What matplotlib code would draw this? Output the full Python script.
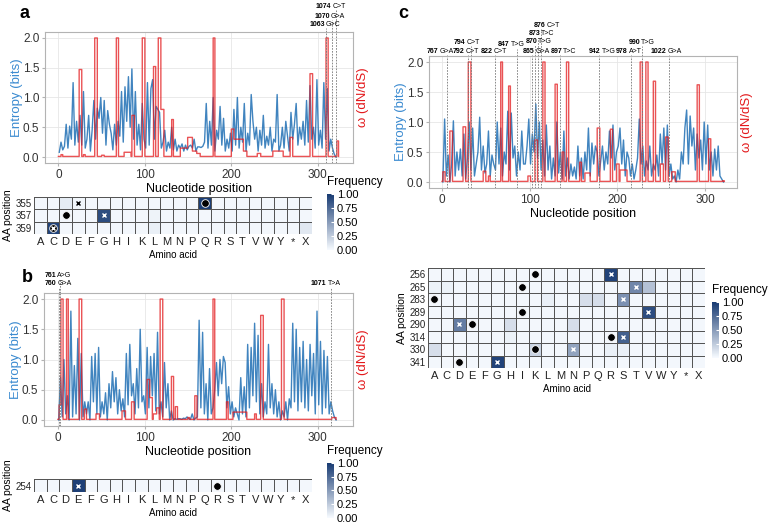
import numpy as np
import matplotlib.pyplot as plt
import matplotlib.transforms as mtransforms
from matplotlib.colors import LinearSegmentedColormap

plt.rcParams['font.family'] = ['Liberation Sans', 'DejaVu Sans']

BLUE = '#1f6fb4'
RED = '#e3191c'
NARROW = ['Liberation Sans Narrow', 'DejaVu Sans Condensed', 'Liberation Sans']
aa = ['A', 'C', 'D', 'E', 'F', 'G', 'H', 'I', 'K', 'L', 'M', 'N', 'P', 'Q', 'R',
      'S', 'T', 'V', 'W', 'Y', '*', 'X']

# ---- panel a: entropy every 2 nt (1, 3, 5, ...) ----
ent_a = [0.08, 0.25, 0.12, 0.18, 0.55, 0.15, 0.52, 0.3, 1.25, 0.2,
         0.6, 0.25, 0.7, 0.2, 1.1, 0.15, 0.3, 0.7, 0.1, 0.45,
         0.95, 0.3, 0.82, 0.65, 1.0, 0.4, 0.95, 0.2, 0.78, 0.55,
         0.4, 0.12, 0.55, 0.2, 0.6, 0.35, 1.1, 0.25, 1.18, 0.6,
         1.35, 0.5, 1.48, 0.3, 1.1, 0.2, 0.55, 0.12, 0.9, 0.3,
         0.15, 1.25, 0.2, 1.15, 1.3, 0.3, 0.85, 0.8, 0.75, 0.15,
         0.25, 0.45, 0.1, 0.25, 0.15, 0.5, 0.12, 0.3, 0.1, 0.2,
         0.15, 0.22, 0.1, 0.2, 0.12, 0.18, 0.2, 0.15, 0.3, 0.1,
         0.17, 0.17, 0.16, 0.18, 0.25, 0.9, 0.15, 0.6, 0.2, 1.0,
         0.1, 0.45, 0.3, 0.85, 0.2, 0.65, 0.1, 0.3, 0.15, 0.4,
         0.1, 0.8, 0.2, 1.0, 0.15, 0.5, 0.25, 0.9, 0.1, 0.4,
         0.2, 1.05, 0.6, 0.3, 0.5, 0.1, 0.45, 0.2, 0.7, 0.15,
         0.35, 0.2, 0.5, 0.1, 0.3, 0.25, 1.05, 0.1, 0.2, 0.5,
         0.15, 0.6, 0.35, 0.1, 0.75, 0.3, 0.55, 0.9, 0.2, 0.5,
         0.3, 0.6, 0.2, 0.95, 0.25, 1.2, 0.3, 0.5, 0.15, 1.3,
         0.2, 0.45, 0.15, 1.25, 0.3, 1.15, 0.1, 0.3, 0.15, 0.05,
         0.0]
om_a_start = [3, 24, 29, 42, 50, 67, 76, 85, 97, 110, 115.5, 118.5, 131, 141, 149.5,
              155, 160, 179, 200, 203, 214, 230, 248, 268, 291, 309.5, 322]
om_a_end = [5, 27, 31, 45, 53, 69.5, 84, 88, 100, 112.5, 118.5, 122, 133, 149.5, 155,
            160, 164, 181, 203, 214, 218, 234, 260, 271, 294, 312, 324]
om_a_val = [0.04, 1.47, 0.04, 2.0, 0.03, 2.0, 0.08, 0.7, 2.0, 1.52, 2.0, 0.8, 0.63, 0.15, 0.33,
            0.1, 0.06, 2.0, 0.47, 0.3, 0.1, 0.06, 0.1, 0.33, 1.4, 2.0, 0.27]
mut_a_x = [310, 317, 321]
mut_a_num = ['1063', '1070', '1074']
mut_a_sub = ['G>C', 'G>A', 'C>T']
mut_a_lx = [308, 314, 315.5]
mut_a_ly = [1.061, 1.122, 1.198]

rows_a = [355, 357, 359]
cells_a = [(355, 'D', 0.08), (355, 'E', 0.03), (355, 'Q', 0.98), (357, 'G', 0.9), (357, 'L', 0.04),
           (359, 'C', 0.95), (359, 'L', 0.06), (359, 'X', 0.1)]
dots_a = [(355, 'Q'), (357, 'D'), (359, 'C')]
cross_a = [(355, 'E'), (357, 'G'), (359, 'C')]

# ---- panel b ----
ent_b = [0.0, 0.7, 0.05, 1.0, 0.1, 0.4, 0.0, 1.8, 0.05, 0.9,
         0.1, 1.35, 0.0, 1.1, 0.05, 0.3, 0.1, 0.3, 0.0, 1.05,
         0.3, 1.1, 0.1, 1.2, 0.05, 0.3, 0.1, 0.45, 0.0, 0.6,
         0.2, 0.8, 0.3, 0.7, 0.1, 0.5, 0.15, 0.35, 0.05, 1.1,
         0.25, 1.25, 0.4, 0.6, 0.1, 0.85, 0.2, 1.5, 0.3, 0.4,
         0.1, 1.2, 0.2, 1.05, 0.4, 1.1, 0.15, 1.45, 0.1, 0.3,
         0.05, 0.95, 0.2, 0.6, 0.0, 0.15, 0.0, 0.02, 0.01, 0.02,
         0.02, 0.01, 0.03, 0.02, 0.05, 0.02, 0.01, 0.1, 0.0, 0.03,
         0.05, 1.65, 0.2, 1.45, 0.1, 0.6, 0.0, 0.85, 0.1, 0.2,
         0.5, 0.95, 0.4, 1.0, 0.6, 1.05, 0.95, 0.2, 0.55, 0.1,
         0.3, 0.05, 0.2, 0.1, 0.0, 0.7, 0.1, 0.55, 0.05, 1.25,
         0.2, 1.2, 0.4, 1.6, 0.3, 1.4, 0.1, 0.6, 0.05, 0.3,
         0.1, 1.25, 0.2, 0.6, 0.1, 0.5, 0.05, 0.3, 0.0, 0.15,
         0.05, 0.3, 0.0, 0.35, 0.2, 1.6, 0.3, 1.5, 0.15, 1.2,
         0.3, 1.3, 0.2, 1.0, 0.15, 1.25, 0.4, 1.1, 0.1, 1.8,
         0.25, 1.3, 0.1, 1.15, 0.2, 1.05, 0.1, 0.3, 0.15, 0.05,
         0.0]
om_b_start = [1.5, 3.5, 10, 24.5, 30.5, 44, 74, 85, 103, 106, 110, 114, 118, 131, 135.5,
              150, 158, 179, 194.5, 202, 208, 227, 234, 258, 316]
om_b_end = [3.5, 5.7, 12, 27.3, 33, 48, 78, 88, 106, 109, 114, 117, 121, 133.5, 138,
            152, 160.5, 181, 196.5, 208, 218, 229, 237, 261, 321]
om_b_val = [0.25, 2.0, 2.0, 2.0, 0.18, 0.1, 0.15, 0.3, 0.67, 0.37, 0.1, 0.2, 2.0, 0.72, 0.22,
            0.04, 0.4, 2.0, 0.3, 0.13, 0.13, 0.1, 1.73, 2.0, 0.04]
mut_b_x = [1.5, 2.3, 315]
mut_b_num = ['760', '761', '1071']
mut_b_sub = ['G>A', 'A>G', 'T>A']
mut_b_lx = [-2, -2, 310]
mut_b_ly = [1.068, 1.128, 1.068]

rows_b = [254]
cells_b = [(254, 'E', 0.97)]
dots_b = [(254, 'R')]
cross_b = [(254, 'E')]

# ---- panel c ----
ent_c = [0.0, 1.05, 0.1, 0.45, 0.0, 0.3, 1.02, 0.1, 0.5, 0.2,
         0.55, 0.1, 0.8, 0.05, 0.4, 1.0, 0.2, 0.9, 0.1, 0.3,
         0.5, 1.08, 0.2, 0.6, 0.15, 0.3, 0.85, 0.1, 0.45, 0.3,
         0.2, 1.0, 0.3, 0.9, 0.1, 0.5, 0.3, 1.18, 0.2, 1.15,
         0.4, 0.6, 0.1, 0.5, 0.2, 0.85, 0.3, 0.3, 0.6, 1.05,
         0.3, 0.8, 0.5, 1.3, 0.4, 1.0, 0.2, 0.7, 0.1, 0.95,
         0.2, 0.6, 0.05, 0.4, 0.1, 1.0, 0.15, 0.5, 0.05, 0.85,
         0.1, 0.4, 0.05, 0.3, 0.1, 0.25, 0.05, 0.6, 0.1, 0.4,
         0.05, 0.5, 0.2, 0.9, 0.1, 0.65, 0.3, 0.6, 0.5, 0.1,
         0.35, 0.6, 0.2, 0.5, 0.3, 0.85, 0.4, 0.95, 0.2, 0.5,
         0.6, 0.9, 0.3, 0.7, 0.1, 0.5, 0.4, 0.1, 0.3, 0.05,
         0.2, 0.4, 1.05, 0.3, 0.6, 0.1, 0.35, 0.2, 0.6, 0.1,
         0.3, 0.2, 0.45, 0.1, 0.8, 0.3, 0.9, 0.2, 0.95, 0.1,
         0.3, 0.05, 0.1, 0.0, 0.2, 0.05, 0.5, 0.3, 0.9, 1.2,
         0.3, 1.1, 0.6, 0.9, 0.2, 0.8, 0.4, 0.7, 0.2, 1.0,
         0.3, 0.95, 0.2, 0.5, 0.1, 0.55, 0.2, 0.6, 0.1, 0.05,
         0.0]
om_c_start = [0.7, 9, 24, 30, 47, 53, 67, 75.7, 98, 106, 115, 129, 137, 142, 156.7,
              163, 177, 191.6, 199, 203, 226, 232.3, 241, 248.7, 255, 262, 291, 304, 320]
om_c_end = [3.4, 12, 27, 33, 50, 55, 69, 78, 101, 109, 117.5, 131.5, 139, 144.5, 159,
            169, 180, 194.3, 202, 211, 228.5, 234.6, 243.3, 252.5, 258, 266, 293.5, 306.5, 322]
om_c_val = [0.17, 0.85, 0.92, 2.0, 0.18, 0.1, 2.0, 1.6, 0.1, 0.7, 2.0, 1.63, 0.5, 2.0, 0.33,
            0.15, 0.9, 0.88, 0.3, 0.2, 2.0, 2.0, 1.68, 0.3, 0.75, 0.17, 1.62, 0.72, 0.02]
mut_c_x = [5.4, 30, 32.7, 60.4, 85.2, 103, 106, 109.8, 112.9, 134.9, 179.4, 215.8, 227.7, 259]
mut_c_num = ['767', '792', '794', '822', '847', '865', '870', '873', '876', '897', '942', '978', '990', '1022']
mut_c_sub = ['G>A', 'C>T', 'C>T', 'C>T', 'T>G', 'G>A', 'T>G', 'T>C', 'C>T', 'T>C', 'T>G', 'A>T', 'T>G', 'G>A']
mut_c_lx = [-4, 26, 26.5, 58, 77, 105.5, 108.5, 112, 118.5, 137, 181, 212, 226, 256]
mut_c_ly = [1.038, 1.038, 1.106, 1.038, 1.085, 1.038, 1.11, 1.17, 1.235, 1.038, 1.038, 1.038, 1.106, 1.038]

rows_c = [256, 265, 283, 289, 290, 314, 330, 341]
cells_c = [(256, 'R', 0.95), (265, 'T', 0.6), (265, 'V', 0.3), (265, 'A', 0.05), (265, 'C', 0.05),
           (283, 'S', 0.55), (283, 'P', 0.15), (283, 'Q', 0.15), (283, 'L', 0.06),
           (289, 'V', 0.9), (290, 'D', 0.65), (290, 'H', 0.15), (290, 'N', 0.15),
           (314, 'S', 0.8), (314, 'H', 0.05), (330, 'A', 0.15), (330, 'K', 0.2), (330, 'N', 0.45),
           (330, 'R', 0.06), (330, 'S', 0.06), (341, 'G', 0.95)]
dots_c = [(256, 'K'), (265, 'I'), (283, 'A'), (289, 'I'), (290, 'E'), (314, 'R'), (330, 'K'), (341, 'D')]
cross_c = [(256, 'R'), (265, 'T'), (283, 'S'), (289, 'V'), (290, 'D'), (314, 'S'), (330, 'N'), (341, 'G')]

cmap = LinearSegmentedColormap.from_list('freq', ['#f7fbff', '#173a72'])

fig = plt.figure(figsize=(7.68, 5.29), dpi=100)


def line_panel(rect, ent, om_s, om_e, om_v, mx, mnum, msub, lx, ly, xlim):
    ax = fig.add_axes(rect)
    x_ent = np.arange(1, 2 * len(ent), 2)
    pos = np.arange(0, max(om_e) + 0.5, 0.5)
    om = np.full(len(pos), 0.01)
    for s, e, v in zip(om_s, om_e, om_v):
        om[(pos >= s) & (pos < e)] = v
    ax.plot(x_ent, ent, color=BLUE, lw=1.0, alpha=0.85)
    ax.plot(pos, om, color=RED, lw=1.0, alpha=0.75, drawstyle='steps-post')
    ax.set_xlim(xlim)
    ax.set_ylim(-0.1, 2.1)
    ax.set_xticks([0, 100, 200, 300])
    ax.set_yticks([0, 0.5, 1, 1.5, 2])
    ax.set_yticklabels(['0.0', '0.5', '1.0', '1.5', '2.0'])
    ax.grid(color='#e6e6e6', lw=0.6)
    ax.set_axisbelow(True)
    for sp in ax.spines.values():
        sp.set_color('#b3b3b3')
    ax.tick_params(labelsize=8.5, length=2.5, color='#b3b3b3', labelcolor='#333333', pad=1.5)
    ax.set_xlabel('Nucleotide position', fontsize=9, labelpad=2)
    ax.set_ylabel('Entropy (bits)', fontsize=9.5, color='#3a8ad0', labelpad=0)
    tr = mtransforms.blended_transform_factory(ax.transData, ax.transAxes)
    tr_sub = mtransforms.offset_copy(tr, fig=fig, x=0.8, y=0, units='points')
    for x in mx:
        ax.plot([x, x], [0, 1], transform=tr, color='#777777', lw=0.6,
                ls=(0, (2, 1.5)), clip_on=False)
    for x, n, s, yy, m in zip(lx, mnum, msub, ly, mx):
        ax.plot([m, m], [1, yy - 0.03], transform=tr, color='#777777', lw=0.6,
                ls=(0, (2, 1.5)), clip_on=False)
        ax.text(x, yy, n, transform=tr, ha='right', va='center', fontsize=5,
                weight='bold', family=NARROW)
        ax.text(x, yy, s, transform=tr_sub, ha='left', va='center', fontsize=5,
                family=NARROW)
    ax2 = ax.twinx()
    ax2.set_ylim(ax.get_ylim())
    ax2.set_yticks([])
    for sp in ax2.spines.values():
        sp.set_visible(False)
    ax2.set_ylabel('ω (dN/dS)', fontsize=9.5, color=RED, labelpad=3)
    return ax


def heat_panel(rect, crect, rows, cells, dots, cross):
    mat = np.full((len(rows), len(aa)), 0.02)
    for r, a, v in cells:
        mat[rows.index(r), aa.index(a)] = v
    ax = fig.add_axes(rect)
    m = ax.pcolormesh(np.arange(len(aa) + 1), np.arange(len(rows) + 1), mat, cmap=cmap,
                      vmin=0, vmax=1, edgecolors='#555555', linewidth=0.5)
    ax.set_xlim(0, len(aa))
    ax.set_ylim(len(rows), 0)
    ax.set_xticks(np.arange(len(aa)) + 0.5)
    ax.set_xticklabels(aa)
    ax.set_yticks(np.arange(len(rows)) + 0.5)
    ax.set_yticklabels([str(r) for r in rows])
    ax.tick_params(length=0, labelsize=8, pad=2, labelcolor='#222222')
    ax.tick_params(axis='y', labelsize=7, pad=1.5)
    for sp in ax.spines.values():
        sp.set_visible(False)
    for r, a in dots:
        ax.plot(aa.index(a) + 0.5, rows.index(r) + 0.5, 'o', color='black', ms=5.5,
                mec='white', mew=0.6)
    for r, a in cross:
        v = mat[rows.index(r), aa.index(a)]
        ax.plot(aa.index(a) + 0.5, rows.index(r) + 0.5, 'x', color='white' if v > 0.3 else 'black',
                ms=3.5, mew=1.0)
    ax.set_xlabel('Amino acid', fontsize=7, labelpad=2)
    ax.set_ylabel('AA position', fontsize=7.5, labelpad=2)
    cax = fig.add_axes(crect)
    cb = fig.colorbar(m, cax=cax, ticks=[0, 0.25, 0.5, 0.75, 1])
    cb.outline.set_visible(False)
    cb.ax.set_yticklabels(['0.00', '0.25', '0.50', '0.75', '1.00'])
    cb.ax.tick_params(labelsize=8, length=2, color='white', direction='in', pad=2)
    cax.text(0, 1.1, 'Frequency', transform=cax.transAxes, ha='left', va='bottom', fontsize=8.5)


line_panel([0.0586, 0.6919, 0.401, 0.2476], ent_a, om_a_start, om_a_end, om_a_val,
           mut_a_x, mut_a_num, mut_a_sub, mut_a_lx, mut_a_ly, (-15.5, 340.7))
heat_panel([0.0443, 0.5577, 0.362, 0.0699], [0.4258, 0.5274, 0.0091, 0.1059],
           rows_a, cells_a, dots_a, cross_a)

line_panel([0.0573, 0.1947, 0.4023, 0.2514], ent_b, om_b_start, om_b_end, om_b_val,
           mut_b_x, mut_b_num, mut_b_sub, mut_b_lx, mut_b_ly, (-16, 340.5))
heat_panel([0.0443, 0.0699, 0.362, 0.0246], [0.4258, 0.0208, 0.0091, 0.104],
           rows_b, cells_b, dots_b, cross_b)

line_panel([0.5586, 0.6446, 0.401, 0.2495], ent_c, om_c_start, om_c_end, om_c_val,
           mut_c_x, mut_c_num, mut_c_sub, mut_c_lx, mut_c_ly, (-14.8, 336.4))
heat_panel([0.5573, 0.3043, 0.3607, 0.189], [0.927, 0.3233, 0.0091, 0.1059],
           rows_c, cells_c, dots_c, cross_c)

fig.text(0.026, 1 - 14 / 529, 'a', fontsize=13, weight='bold', va='center')
fig.text(0.029, 1 - 278 / 529, 'b', fontsize=13, weight='bold', va='center')
fig.text(0.518, 1 - 13 / 529, 'c', fontsize=13, weight='bold', va='center')

fig.savefig('out.png', dpi=100)
